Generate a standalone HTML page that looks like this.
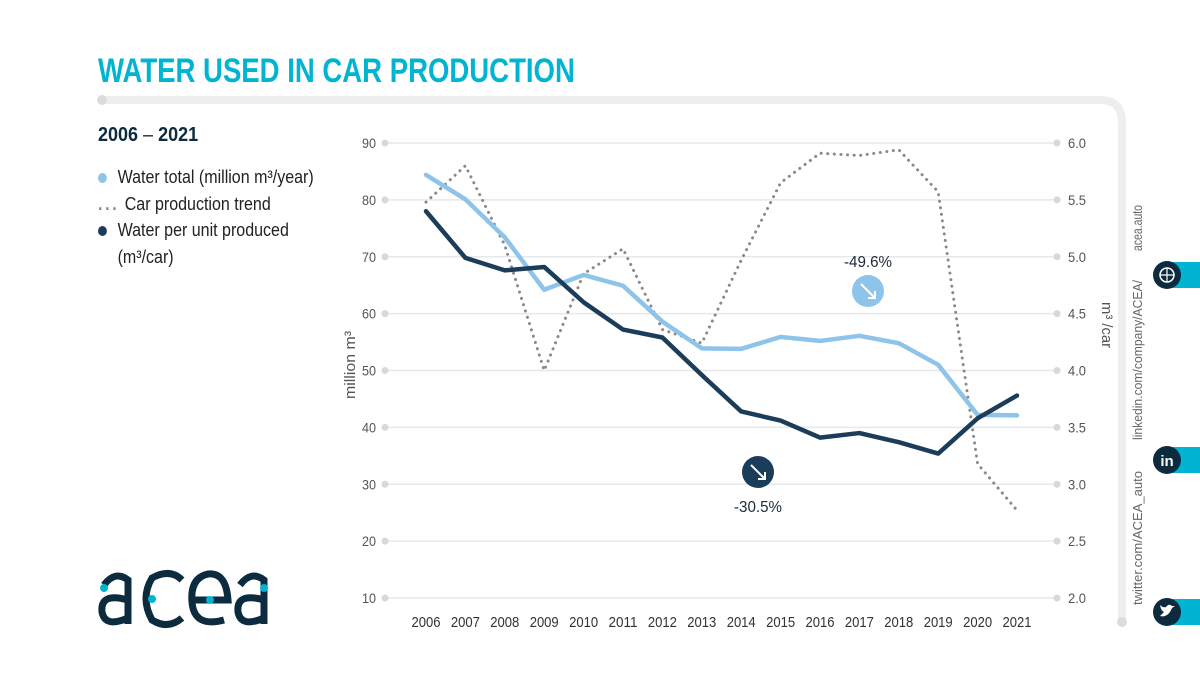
<!DOCTYPE html>
<html><head><meta charset="utf-8">
<style>
body{margin:0;width:1200px;height:675px;background:#fff;overflow:hidden;font-family:"Liberation Sans",sans-serif;}
.c{position:absolute;}
</style></head>
<body>
<div style="position:relative;width:1200px;height:675px;">
<div class="c" style="left:98px;top:52px;font-size:34px;font-weight:bold;color:#00b4d2;transform:scaleX(0.81);transform-origin:left top;white-space:nowrap;">WATER USED IN CAR PRODUCTION</div>
<svg class="c" style="left:0;top:0" width="1200" height="675">
  <path d="M102 100 H1100 Q1122 100 1122 122 V622" fill="none" stroke="#eeeeee" stroke-width="8" stroke-linecap="round"/>
  <circle cx="102" cy="100" r="5" fill="#dcdcdc"/><circle cx="1122" cy="622" r="5" fill="#dcdcdc"/>
  <g id="grid"></g><g id="series"></g>
  <text x="355" y="365" transform="rotate(-90 355 365)" text-anchor="middle" font-size="15" fill="#555" textLength="68" lengthAdjust="spacingAndGlyphs">million m³</text>
  <text x="1102" y="325" transform="rotate(90 1102 325)" text-anchor="middle" font-size="15" fill="#555" textLength="46" lengthAdjust="spacingAndGlyphs">m³ /car</text>
  <text x="868" y="267" text-anchor="middle" font-size="16" fill="#1a2a3a" textLength="48" lengthAdjust="spacingAndGlyphs">-49.6%</text>
  <circle cx="868" cy="291" r="16" fill="#8ec3ea"/>
  <path d="M861 284 L875 298 M868 298 H875 V291" stroke="#fff" stroke-width="2" fill="none"/>
  <circle cx="758" cy="472" r="16" fill="#1c3d5a"/>
  <path d="M751 465 L765 479 M758 479 H765 V472" stroke="#fff" stroke-width="2" fill="none"/>
  <text x="758" y="512" text-anchor="middle" font-size="16" fill="#1a2a3a" textLength="48" lengthAdjust="spacingAndGlyphs">-30.5%</text>
  <!-- social -->
  <rect x="1167" y="262" width="33" height="26" fill="#00b4d2"/><circle cx="1167" cy="275" r="14" fill="#0d2b3e"/>
  <circle cx="1167" cy="275" r="7" fill="none" stroke="#fff" stroke-width="1.5"/><path d="M1160 275H1174M1167 268V282" stroke="#fff" stroke-width="1.2"/>
  <rect x="1167" y="447" width="33" height="26" fill="#00b4d2"/><circle cx="1167" cy="460" r="14" fill="#0d2b3e"/>
  <text x="1167" y="466" text-anchor="middle" font-size="15" font-weight="bold" fill="#fff">in</text>
  <rect x="1167" y="599" width="33" height="26" fill="#00b4d2"/><circle cx="1167" cy="612" r="14" fill="#0d2b3e"/>
  <path d="M1160 616 Q1168 618 1172 608 L1175 606 L1172 606 Q1169 603 1166 607 Q1163 608 1160 605 Q1161 611 1164 612 Q1162 614 1160 616Z" fill="#fff"/>
  <g font-size="13" fill="#666">
   <text transform="translate(1142 228) rotate(-90)" text-anchor="middle" font-size="14" textLength="46" lengthAdjust="spacingAndGlyphs">acea.auto</text>
   <text transform="translate(1142 360) rotate(-90)" text-anchor="middle" textLength="160" lengthAdjust="spacingAndGlyphs">linkedin.com/company/ACEA/</text>
   <text transform="translate(1142 538) rotate(-90)" text-anchor="middle" textLength="134" lengthAdjust="spacingAndGlyphs">twitter.com/ACEA_auto</text>
  </g>
  <!-- logo -->
  <g fill="none" stroke="#0d2b3e" stroke-width="7">
   <path d="M104 585 Q115 570 128 580 V624 M128 600 Q100 592 102 612 Q105 628 128 618"/>
   <path d="M182 580 Q170 568 152 578 Q140 598 152 620 Q168 630 182 618"/>
   <path d="M192 600 H228 Q226 572 208 574 Q190 578 192 602 Q194 628 224 620"/>
   <path d="M240 585 Q251 570 264 580 V624 M264 600 Q236 592 238 612 Q241 628 264 618"/>
  </g>
  <circle cx="104" cy="588" r="4" fill="#00b4d2"/><circle cx="152" cy="599" r="4" fill="#00b4d2"/><circle cx="210" cy="600" r="4" fill="#00b4d2"/><circle cx="264" cy="588" r="4" fill="#00b4d2"/>
</svg>
<div class="c" style="left:98px;top:124px;font-size:20px;font-weight:bold;color:#0d2b3e;transform:scaleX(0.9);transform-origin:left top;">2006 <span style="font-weight:normal">–</span> 2021</div>
<div class="c" style="left:98px;top:164px;font-size:18px;color:#222;line-height:26.5px;transform:scaleX(0.89);transform-origin:left top;white-space:nowrap;">
 <div><span style="display:inline-block;width:10px;height:10px;border-radius:50%;background:#8ec3ea;margin-right:12px"></span>Water total (million m³/year)</div>
 <div><span style="color:#888;letter-spacing:3px;margin-right:6px;font-weight:bold">...</span>Car production trend</div>
 <div><span style="display:inline-block;width:10px;height:10px;border-radius:50%;background:#1c3d5a;margin-right:12px"></span>Water per unit produced<br><span style="margin-left:22px">(m³/car)</span></div>
</div>
</div>
<script>
const years=[2006,2007,2008,2009,2010,2011,2012,2013,2014,2015,2016,2017,2018,2019,2020,2021];
const waterTotal=[84.4,80.1,73.4,64.2,66.8,64.9,58.6,53.9,53.8,55.9,55.2,56.1,54.8,51.0,42.2,42.1];
const perUnit=[5.40,4.99,4.88,4.91,4.60,4.36,4.29,3.96,3.64,3.56,3.41,3.45,3.37,3.27,3.58,3.78];
const production=[5.48,5.80,5.10,4.00,4.85,5.07,4.36,4.24,4.97,5.65,5.91,5.89,5.94,5.57,3.18,2.77];
const leftTicks=[10,20,30,40,50,60,70,80,90];
const rightTicks=["2.0","2.5","3.0","3.5","4.0","4.5","5.0","5.5","6.0"];
const NS="http://www.w3.org/2000/svg";
const x=i=>426+i*(1017-426)/(years.length-1);
const yL=v=>598-(v-10)*(598-143)/80;
const yR=v=>598-(v-2)*(598-143)/4;
const grid=document.getElementById('grid'),ser=document.getElementById('series');
function mk(tag,at,par){const e=document.createElementNS(NS,tag);for(const k in at)e.setAttribute(k,at[k]);par.appendChild(e);return e;}
leftTicks.forEach((t,i)=>{
 const y=yL(t);
 const l=mk('line',{x1:385,x2:1057,y1:y,y2:y,stroke:'#e8e8e8','stroke-width':1.5},grid);
 
 
 mk('circle',{cx:385,cy:y,r:3.5,fill:'#d8d8d8'},grid);mk('circle',{cx:1057,cy:y,r:3.5,fill:'#d8d8d8'},grid);
 const a=mk('text',{x:376,y:y+5,'text-anchor':'end','font-size':14,fill:'#555',textLength:String(t).length*7,lengthAdjust:'spacingAndGlyphs'},grid);a.textContent=t;
 
 
 const b=mk('text',{x:1068,y:y+5,'font-size':14,fill:'#555',textLength:18,lengthAdjust:'spacingAndGlyphs'},grid);b.textContent=rightTicks[i];
 
 
});
years.forEach((yr,i)=>{const t=mk('text',{x:x(i),y:627,'text-anchor':'middle','font-size':15,fill:'#333',textLength:29,lengthAdjust:'spacingAndGlyphs'},grid);t.textContent=yr;
 
 });
function line(vals,f,at,name){const p=mk('polyline',Object.assign({points:vals.map((v,i)=>x(i)+','+f(v)).join(' '),fill:'none','stroke-linejoin':'round','stroke-linecap':'round'},at),ser);
 
 }
line(production,yR,{stroke:'#8a8a8a','stroke-width':3,'stroke-dasharray':'0.1 6.5'},'car-production-line');
line(waterTotal,yL,{stroke:'#8ec3ea','stroke-width':4.5},'water-total-line');
line(perUnit,yR,{stroke:'#1c3d5a','stroke-width':4.5},'water-per-unit-line');
</script>
</body></html>
